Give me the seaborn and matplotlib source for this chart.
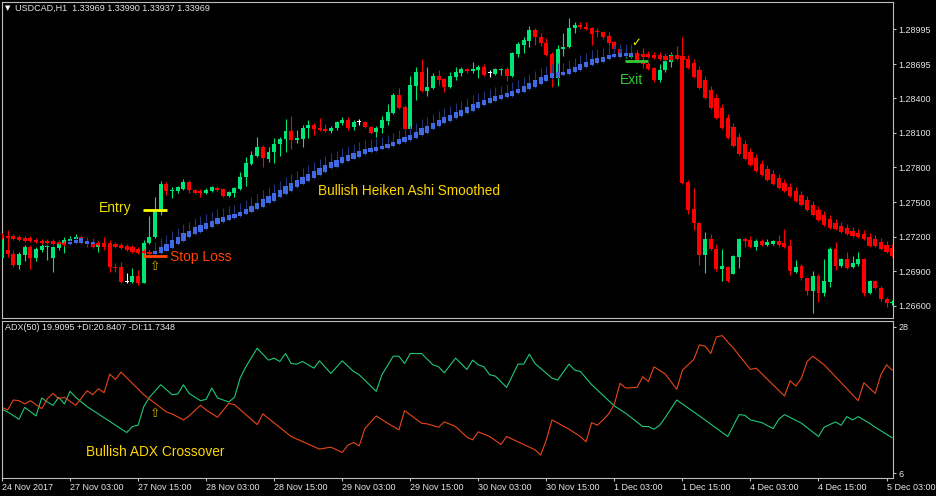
import numpy as np
import pandas as pd
import matplotlib
matplotlib.use("Agg")
import matplotlib.pyplot as plt
import seaborn as sns

# USDCAD H1, 24 Nov - 5 Dec 2017, one value per hourly bar
bar_open = [
    1.27016, 1.27085, 1.27050, 1.26955, 1.27042, 1.27111, 1.27016, 1.27085, 1.27107, 1.27016,
    1.27102, 1.27137, 1.27167, 1.27180, 1.27198, 1.27154, 1.27146, 1.27111, 1.27146, 1.27146,
    1.26938, 1.26938, 1.26808, 1.26808, 1.26860, 1.26799, 1.27146, 1.27198, 1.27414, 1.27657,
    1.27596, 1.27596, 1.27613, 1.27674, 1.27605, 1.27587, 1.27579, 1.27596, 1.27622, 1.27613,
    1.27553, 1.27579, 1.27613, 1.27717, 1.27830, 1.27899, 1.27977, 1.27873, 1.27934, 1.28003,
    1.28046, 1.28116, 1.28042, 1.28046, 1.28142, 1.28167, 1.28142, 1.28124, 1.28116, 1.28142,
    1.28185, 1.28211, 1.28150, 1.28193, 1.28193, 1.28150, 1.28107, 1.28142, 1.28202, 1.28271,
    1.28427, 1.28323, 1.28133, 1.28505, 1.28626, 1.28462, 1.28488, 1.28592, 1.28566, 1.28497,
    1.28583, 1.28618, 1.28652, 1.28635, 1.28644, 1.28670, 1.28618, 1.28609, 1.28648, 1.28652,
    1.28592, 1.28782, 1.28860, 1.28895, 1.28990, 1.28930, 1.28878, 1.28782, 1.28575, 1.28826,
    1.28843, 1.29008, 1.29033, 1.29016, 1.29008, 1.28973, 1.28973, 1.28938, 1.28886, 1.28826,
    1.28774, 1.28756, 1.28791, 1.28713, 1.28696, 1.28661, 1.28557, 1.28644, 1.28713, 1.28774,
    1.28756, 1.27674, 1.27440, 1.27319, 1.27042, 1.27180, 1.27094, 1.26920, 1.26938, 1.26877,
    1.27024, 1.27180, 1.27172, 1.27111, 1.27163, 1.27128, 1.27137, 1.27163, 1.27146, 1.27120,
    1.26894, 1.26946, 1.26843, 1.26730, 1.26860, 1.26713, 1.26808, 1.27094, 1.26946, 1.27007,
    1.26938, 1.26964, 1.27007, 1.26713, 1.26817, 1.26756, 1.26661, 1.26622,
]
bar_high = [
    1.27258, 1.27258, 1.27085, 1.27068, 1.27128, 1.27128, 1.27111, 1.27137, 1.27128, 1.27120,
    1.27154, 1.27198, 1.27206, 1.27224, 1.27206, 1.27198, 1.27189, 1.27163, 1.27198, 1.27172,
    1.26972, 1.26981, 1.26886, 1.26929, 1.26912, 1.27172, 1.27379, 1.27544, 1.27683, 1.27674,
    1.27631, 1.27639, 1.27700, 1.27691, 1.27613, 1.27613, 1.27622, 1.27639, 1.27639, 1.27622,
    1.27596, 1.27631, 1.27760, 1.27890, 1.27942, 1.28064, 1.27994, 1.27977, 1.28055, 1.28064,
    1.28219, 1.28245, 1.28124, 1.28167, 1.28211, 1.28185, 1.28228, 1.28176, 1.28159, 1.28202,
    1.28237, 1.28237, 1.28211, 1.28219, 1.28202, 1.28159, 1.28159, 1.28245, 1.28349, 1.28445,
    1.28488, 1.28341, 1.28592, 1.28670, 1.28739, 1.28670, 1.28618, 1.28644, 1.28575, 1.28626,
    1.28670, 1.28670, 1.28661, 1.28713, 1.28687, 1.28696, 1.28644, 1.28661, 1.28661, 1.28670,
    1.28800, 1.28886, 1.28930, 1.29025, 1.29008, 1.28964, 1.28921, 1.28800, 1.28860, 1.28964,
    1.29094, 1.29059, 1.29059, 1.29059, 1.29016, 1.29008, 1.28982, 1.28973, 1.28895, 1.28843,
    1.28843, 1.28843, 1.28817, 1.28834, 1.28713, 1.28670, 1.28696, 1.28756, 1.28800, 1.28852,
    1.28930, 1.27691, 1.27622, 1.27327, 1.27241, 1.27224, 1.27137, 1.27094, 1.26946, 1.27042,
    1.27189, 1.27198, 1.27206, 1.27180, 1.27180, 1.27180, 1.27172, 1.27215, 1.27267, 1.27180,
    1.26998, 1.26964, 1.26851, 1.26903, 1.26877, 1.27007, 1.27111, 1.27154, 1.27016, 1.27068,
    1.27033, 1.27068, 1.27016, 1.26825, 1.26825, 1.26773, 1.26678, 1.26652,
]
bar_low = [
    1.26998, 1.27024, 1.26938, 1.26920, 1.26990, 1.26920, 1.26990, 1.27068, 1.26998, 1.26894,
    1.27085, 1.27059, 1.27146, 1.27154, 1.27137, 1.27111, 1.27102, 1.27068, 1.27085, 1.26894,
    1.26894, 1.26799, 1.26799, 1.26799, 1.26782, 1.26799, 1.27137, 1.27189, 1.27388, 1.27561,
    1.27535, 1.27579, 1.27605, 1.27579, 1.27570, 1.27544, 1.27570, 1.27587, 1.27596, 1.27544,
    1.27544, 1.27544, 1.27605, 1.27639, 1.27821, 1.27890, 1.27804, 1.27847, 1.27838, 1.27899,
    1.27934, 1.27960, 1.28012, 1.27977, 1.28055, 1.28081, 1.28116, 1.28107, 1.28098, 1.28124,
    1.28167, 1.28124, 1.28124, 1.28167, 1.28142, 1.28090, 1.28064, 1.28098, 1.28167, 1.28263,
    1.28306, 1.28124, 1.28124, 1.28384, 1.28453, 1.28419, 1.28479, 1.28514, 1.28453, 1.28488,
    1.28557, 1.28592, 1.28618, 1.28618, 1.28575, 1.28592, 1.28583, 1.28600, 1.28600, 1.28549,
    1.28583, 1.28756, 1.28791, 1.28843, 1.28860, 1.28852, 1.28765, 1.28497, 1.28505, 1.28765,
    1.28834, 1.28964, 1.28999, 1.28990, 1.28860, 1.28930, 1.28912, 1.28860, 1.28808, 1.28748,
    1.28748, 1.28748, 1.28704, 1.28661, 1.28644, 1.28540, 1.28540, 1.28626, 1.28670, 1.28739,
    1.27657, 1.27397, 1.27258, 1.26955, 1.26886, 1.27085, 1.26903, 1.26817, 1.26808, 1.26877,
    1.26929, 1.27111, 1.27102, 1.27085, 1.27120, 1.27120, 1.27128, 1.27111, 1.27102, 1.26868,
    1.26886, 1.26825, 1.26695, 1.26539, 1.26635, 1.26687, 1.26765, 1.26912, 1.26938, 1.26920,
    1.26929, 1.26946, 1.26687, 1.26704, 1.26747, 1.26643, 1.26591, 1.26609,
]
bar_close = [
    1.27215, 1.27050, 1.26955, 1.27050, 1.27111, 1.27016, 1.27094, 1.27120, 1.27111, 1.27111,
    1.27137, 1.27172, 1.27172, 1.27198, 1.27146, 1.27137, 1.27111, 1.27146, 1.27111, 1.26938,
    1.26933, 1.26808, 1.26808, 1.26860, 1.26799, 1.27146, 1.27198, 1.27431, 1.27657, 1.27596,
    1.27605, 1.27631, 1.27674, 1.27605, 1.27579, 1.27583, 1.27605, 1.27631, 1.27605, 1.27553,
    1.27587, 1.27622, 1.27717, 1.27838, 1.27908, 1.27977, 1.27882, 1.27934, 1.28003, 1.28046,
    1.28116, 1.28038, 1.28046, 1.28142, 1.28167, 1.28133, 1.28124, 1.28120, 1.28142, 1.28193,
    1.28211, 1.28142, 1.28193, 1.28193, 1.28150, 1.28098, 1.28142, 1.28211, 1.28280, 1.28427,
    1.28315, 1.28133, 1.28514, 1.28626, 1.28462, 1.28497, 1.28592, 1.28557, 1.28497, 1.28592,
    1.28626, 1.28652, 1.28635, 1.28652, 1.28670, 1.28600, 1.28618, 1.28652, 1.28652, 1.28592,
    1.28791, 1.28869, 1.28904, 1.28990, 1.28930, 1.28878, 1.28774, 1.28575, 1.28826, 1.28843,
    1.29008, 1.29033, 1.29016, 1.28999, 1.28956, 1.28969, 1.28930, 1.28878, 1.28826, 1.28756,
    1.28782, 1.28791, 1.28713, 1.28696, 1.28652, 1.28557, 1.28644, 1.28722, 1.28774, 1.28748,
    1.27665, 1.27431, 1.27319, 1.27042, 1.27180, 1.27094, 1.26920, 1.26946, 1.26817, 1.27033,
    1.27180, 1.27163, 1.27111, 1.27163, 1.27128, 1.27154, 1.27163, 1.27128, 1.27111, 1.26903,
    1.26938, 1.26843, 1.26730, 1.26860, 1.26713, 1.26817, 1.27094, 1.26946, 1.27007, 1.26929,
    1.26972, 1.27007, 1.26713, 1.26817, 1.26756, 1.26661, 1.26626, 1.26626,
]

# Heiken Ashi Smoothed overlay
ha_open = [
    1.27215, 1.27206, 1.27206, 1.27198, 1.27189, 1.27189, 1.27172, 1.27163, 1.27163, 1.27163,
    1.27154, 1.27146, 1.27137, 1.27146, 1.27146, 1.27137, 1.27137, 1.27146, 1.27146, 1.27146,
    1.27137, 1.27128, 1.27120, 1.27111, 1.27094, 1.27076, 1.27068, 1.27050, 1.27059, 1.27076,
    1.27102, 1.27137, 1.27163, 1.27198, 1.27224, 1.27241, 1.27267, 1.27284, 1.27310, 1.27327,
    1.27345, 1.27362, 1.27379, 1.27397, 1.27414, 1.27440, 1.27457, 1.27492, 1.27509, 1.27544,
    1.27570, 1.27596, 1.27631, 1.27657, 1.27683, 1.27709, 1.27734, 1.27760, 1.27795, 1.27804,
    1.27838, 1.27856, 1.27873, 1.27890, 1.27916, 1.27934, 1.27942, 1.27960, 1.27968, 1.27986,
    1.28003, 1.28020, 1.28038, 1.28055, 1.28081, 1.28098, 1.28133, 1.28159, 1.28185, 1.28202,
    1.28228, 1.28245, 1.28271, 1.28289, 1.28315, 1.28341, 1.28358, 1.28375, 1.28393, 1.28410,
    1.28419, 1.28445, 1.28453, 1.28479, 1.28497, 1.28523, 1.28549, 1.28575, 1.28583, 1.28600,
    1.28609, 1.28626, 1.28644, 1.28670, 1.28687, 1.28704, 1.28713, 1.28739, 1.28756, 1.28756,
    1.28765, 1.28765, 1.28791, 1.28782, 1.28782, 1.28774, 1.28774, 1.28765, 1.28765, 1.28765,
    1.28765, 1.28739, 1.28704, 1.28644, 1.28557, 1.28471, 1.28401, 1.28315, 1.28228, 1.28150,
    1.28064, 1.28003, 1.27934, 1.27882, 1.27830, 1.27786, 1.27743, 1.27709, 1.27665, 1.27631,
    1.27596, 1.27561, 1.27518, 1.27475, 1.27431, 1.27388, 1.27353, 1.27319, 1.27293, 1.27276,
    1.27250, 1.27232, 1.27224, 1.27198, 1.27180, 1.27154, 1.27128, 1.27102,
]
ha_close = [
    1.27189, 1.27189, 1.27180, 1.27172, 1.27163, 1.27163, 1.27154, 1.27146, 1.27146, 1.27137,
    1.27137, 1.27128, 1.27154, 1.27172, 1.27189, 1.27163, 1.27154, 1.27128, 1.27128, 1.27120,
    1.27111, 1.27102, 1.27085, 1.27068, 1.27059, 1.27059, 1.27050, 1.27076, 1.27111, 1.27137,
    1.27172, 1.27198, 1.27232, 1.27250, 1.27284, 1.27301, 1.27319, 1.27336, 1.27362, 1.27371,
    1.27388, 1.27397, 1.27414, 1.27440, 1.27466, 1.27492, 1.27527, 1.27553, 1.27579, 1.27605,
    1.27639, 1.27665, 1.27691, 1.27717, 1.27743, 1.27769, 1.27795, 1.27821, 1.27847, 1.27864,
    1.27890, 1.27908, 1.27925, 1.27942, 1.27960, 1.27968, 1.27977, 1.27986, 1.28003, 1.28020,
    1.28046, 1.28064, 1.28081, 1.28107, 1.28142, 1.28159, 1.28185, 1.28211, 1.28237, 1.28254,
    1.28280, 1.28297, 1.28323, 1.28349, 1.28367, 1.28384, 1.28401, 1.28419, 1.28427, 1.28445,
    1.28462, 1.28479, 1.28505, 1.28531, 1.28557, 1.28583, 1.28600, 1.28618, 1.28626, 1.28626,
    1.28652, 1.28670, 1.28696, 1.28713, 1.28739, 1.28748, 1.28756, 1.28774, 1.28782, 1.28791,
    1.28791, 1.28791, 1.28765, 1.28756, 1.28756, 1.28748, 1.28739, 1.28730, 1.28730, 1.28739,
    1.28730, 1.28661, 1.28583, 1.28488, 1.28401, 1.28315, 1.28228, 1.28142, 1.28055, 1.27986,
    1.27916, 1.27873, 1.27821, 1.27769, 1.27734, 1.27691, 1.27657, 1.27622, 1.27596, 1.27553,
    1.27509, 1.27475, 1.27431, 1.27388, 1.27345, 1.27301, 1.27276, 1.27267, 1.27241, 1.27224,
    1.27206, 1.27198, 1.27180, 1.27120, 1.27120, 1.27094, 1.27068, 1.27033,
]
ha_high = [
    1.27232, 1.27224, 1.27224, 1.27215, 1.27206, 1.27206, 1.27189, 1.27180, 1.27180, 1.27180,
    1.27172, 1.27163, 1.27180, 1.27198, 1.27215, 1.27189, 1.27180, 1.27163, 1.27163, 1.27163,
    1.27154, 1.27146, 1.27137, 1.27128, 1.27111, 1.27094, 1.27085, 1.27154, 1.27189, 1.27215,
    1.27250, 1.27276, 1.27310, 1.27327, 1.27362, 1.27379, 1.27397, 1.27414, 1.27440, 1.27449,
    1.27466, 1.27475, 1.27492, 1.27518, 1.27544, 1.27570, 1.27605, 1.27631, 1.27657, 1.27683,
    1.27717, 1.27743, 1.27769, 1.27795, 1.27821, 1.27847, 1.27873, 1.27899, 1.27925, 1.27942,
    1.27968, 1.27986, 1.28003, 1.28020, 1.28038, 1.28046, 1.28055, 1.28064, 1.28081, 1.28098,
    1.28124, 1.28142, 1.28159, 1.28185, 1.28219, 1.28237, 1.28263, 1.28289, 1.28315, 1.28332,
    1.28358, 1.28375, 1.28401, 1.28427, 1.28445, 1.28462, 1.28479, 1.28497, 1.28505, 1.28523,
    1.28540, 1.28557, 1.28583, 1.28609, 1.28635, 1.28661, 1.28678, 1.28696, 1.28704, 1.28704,
    1.28730, 1.28748, 1.28774, 1.28791, 1.28817, 1.28826, 1.28834, 1.28852, 1.28860, 1.28869,
    1.28869, 1.28869, 1.28817, 1.28808, 1.28808, 1.28800, 1.28800, 1.28791, 1.28791, 1.28791,
    1.28791, 1.28774, 1.28739, 1.28678, 1.28592, 1.28505, 1.28436, 1.28349, 1.28263, 1.28185,
    1.28098, 1.28038, 1.27968, 1.27916, 1.27864, 1.27821, 1.27778, 1.27743, 1.27700, 1.27665,
    1.27631, 1.27596, 1.27553, 1.27509, 1.27466, 1.27423, 1.27388, 1.27353, 1.27327, 1.27310,
    1.27284, 1.27267, 1.27258, 1.27232, 1.27215, 1.27189, 1.27163, 1.27137,
]
ha_low = [
    1.27180, 1.27180, 1.27172, 1.27163, 1.27154, 1.27154, 1.27146, 1.27137, 1.27137, 1.27128,
    1.27128, 1.27120, 1.27128, 1.27137, 1.27137, 1.27128, 1.27128, 1.27120, 1.27120, 1.27111,
    1.27102, 1.27094, 1.27076, 1.27059, 1.27050, 1.27050, 1.27042, 1.27042, 1.27050, 1.27068,
    1.27094, 1.27128, 1.27154, 1.27189, 1.27215, 1.27232, 1.27258, 1.27276, 1.27301, 1.27319,
    1.27336, 1.27353, 1.27371, 1.27388, 1.27405, 1.27431, 1.27449, 1.27483, 1.27501, 1.27535,
    1.27561, 1.27587, 1.27622, 1.27648, 1.27674, 1.27700, 1.27726, 1.27752, 1.27786, 1.27795,
    1.27830, 1.27847, 1.27864, 1.27882, 1.27908, 1.27925, 1.27934, 1.27951, 1.27960, 1.27977,
    1.27994, 1.28012, 1.28029, 1.28046, 1.28072, 1.28090, 1.28124, 1.28150, 1.28176, 1.28193,
    1.28219, 1.28237, 1.28263, 1.28280, 1.28306, 1.28332, 1.28349, 1.28367, 1.28384, 1.28401,
    1.28410, 1.28436, 1.28445, 1.28471, 1.28488, 1.28514, 1.28540, 1.28566, 1.28575, 1.28592,
    1.28600, 1.28618, 1.28635, 1.28661, 1.28678, 1.28696, 1.28704, 1.28730, 1.28748, 1.28748,
    1.28756, 1.28756, 1.28756, 1.28748, 1.28748, 1.28739, 1.28730, 1.28722, 1.28722, 1.28730,
    1.28722, 1.28652, 1.28575, 1.28479, 1.28393, 1.28306, 1.28219, 1.28133, 1.28046, 1.27977,
    1.27908, 1.27864, 1.27812, 1.27760, 1.27726, 1.27683, 1.27648, 1.27613, 1.27587, 1.27544,
    1.27501, 1.27466, 1.27423, 1.27379, 1.27336, 1.27293, 1.27267, 1.27258, 1.27232, 1.27215,
    1.27198, 1.27189, 1.27172, 1.27111, 1.27111, 1.27085, 1.27059, 1.27024,
]

# ADX(50) directional lines, turning points (bar index, value)
plus_di_bar = [0, 1, 3, 4, 6, 7, 8, 9, 10, 11, 12, 13, 15, 22, 23, 24, 25, 26, 28, 30,
               31, 32, 33, 35, 36, 37, 38, 40, 41, 42, 43, 45, 47, 48, 49, 50, 51, 52, 53, 55,
               56, 58, 60, 62, 63, 66, 67, 69, 70, 71, 72, 74, 76, 77, 78, 80, 82, 83, 84, 85,
               86, 87, 89, 91, 92, 93, 94, 97, 98, 100, 101, 102, 104, 108, 110, 113, 114, 115, 116, 117,
               119, 123, 128, 130, 131, 132, 134, 136, 137, 138, 141, 144, 145, 147, 148, 149, 150, 151, 153, 154,
               157]
plus_di = [15.6, 15.2, 14.1, 15.9, 14.6, 17.3, 16.7, 16.2, 17.4, 16.4, 18.3, 17.4, 16.0, 12.1, 13.0, 13.2, 16.0, 17.4, 19.3, 17.8,
           17.9, 19.3, 18.0, 16.9, 17.1, 18.8, 17.3, 16.7, 17.4, 20.3, 22.0, 24.8, 23.0, 23.3, 22.8, 24.0, 22.5, 22.4, 22.8, 21.8,
           22.9, 21.0, 22.9, 21.3, 20.8, 18.3, 20.8, 23.6, 23.6, 22.5, 24.0, 24.0, 22.3, 22.0, 21.1, 23.3, 21.6, 23.0, 22.3, 22.0,
           20.8, 20.6, 18.9, 22.4, 22.4, 23.9, 22.5, 20.3, 20.0, 22.4, 21.5, 21.3, 19.3, 16.1, 15.0, 13.0, 13.0, 12.6, 13.2, 14.4,
           17.0, 14.6, 11.5, 14.8, 14.7, 14.0, 13.6, 12.7, 14.1, 14.8, 13.5, 11.5, 12.9, 13.7, 13.2, 14.5, 14.0, 14.5, 13.5, 12.9,
           11.3]
minus_di_bar = [0, 1, 2, 3, 4, 5, 7, 8, 9, 10, 11, 13, 15, 16, 17, 18, 19, 20, 21, 25,
                29, 30, 32, 33, 35, 36, 38, 40, 41, 45, 46, 51, 56, 58, 60, 61, 62, 63, 64, 66,
                68, 70, 71, 74, 75, 77, 78, 80, 82, 83, 84, 86, 88, 89, 91, 94, 95, 96, 97, 100,
                102, 103, 104, 105, 106, 107, 108, 109, 110, 112, 113, 114, 115, 117, 119, 120, 122, 123, 124, 125,
                126, 127, 129, 132, 133, 138, 139, 140, 141, 142, 143, 145, 151, 152, 154, 155, 156, 157]
minus_di = [15.9, 15.5, 17.0, 16.9, 16.4, 16.9, 15.7, 17.2, 18.0, 17.2, 17.4, 16.2, 18.4, 17.8, 18.7, 18.1, 20.9, 20.1, 21.2, 17.8,
            15.2, 14.9, 14.0, 14.6, 16.2, 15.5, 14.4, 16.5, 16.3, 13.3, 14.9, 11.5, 9.6, 9.9, 9.1, 10.2, 10.6, 10.1, 12.7, 14.6,
            13.5, 12.5, 15.4, 13.5, 13.4, 12.9, 13.7, 13.0, 11.4, 11.0, 12.2, 11.5, 10.3, 11.5, 10.7, 9.5, 8.7, 11.0, 14.0, 12.6,
            11.5, 10.7, 13.6, 13.2, 14.0, 14.9, 16.4, 19.5, 18.8, 18.9, 20.5, 19.8, 22.0, 20.9, 18.6, 21.5, 23.1, 25.3, 25.1, 24.0,
            26.5, 26.7, 24.8, 21.6, 21.8, 17.6, 19.9, 19.1, 20.3, 22.8, 23.6, 22.3, 16.9, 19.6, 18.0, 20.8, 22.3, 21.5]

time_ticks = [0, 12, 24, 36, 48, 60, 72, 84, 96, 108, 120, 132, 144, 156]
time_labels = ['24 Nov 2017', '27 Nov 03:00', '27 Nov 15:00', '28 Nov 03:00', '28 Nov 15:00',
               '29 Nov 03:00', '29 Nov 15:00', '30 Nov 03:00', '30 Nov 15:00', '1 Dec 03:00',
               '1 Dec 15:00', '4 Dec 03:00', '4 Dec 15:00', '5 Dec 03:00']
price_ticks = [1.26600, 1.26900, 1.27200, 1.27500, 1.27800, 1.28100, 1.28400, 1.28695, 1.28995]
adx_ticks = [6, 28]

# trade annotations
entry_price, stop_price, exit_price = 1.27435, 1.27033, 1.28722
trade_bars = (24.9, 29.1)
exit_bars = (109.9, 113.9)

BULL, BEAR, DOJI = '#00E676', '#FF0000', '#FFFFFF'
HA_UP, HA_UP_WICK, HA_DN = '#4169E1', '#22347A', '#FF0000'
GOLD = '#FFD700'
AXIS_TXT = '#E6E6E6'
FRAME = '#BEBEBE'

sns.set_style('dark', {'axes.facecolor': 'black', 'figure.facecolor': 'black',
                       'axes.edgecolor': FRAME, 'text.color': AXIS_TXT,
                       'xtick.color': AXIS_TXT, 'ytick.color': AXIS_TXT})
plt.rcParams['font.family'] = ['Liberation Sans', 'DejaVu Sans']

W, H = 936, 496
fig = plt.figure(figsize=(W / 100, H / 100), dpi=100, facecolor='black')


def px_box(x0, y0, x1, y1):
    return [x0 / W, 1 - y1 / H, (x1 - x0) / W, (y1 - y0) / H]


ax = fig.add_axes(px_box(1.5, 2, 893, 318))
ax2 = fig.add_axes(px_box(1.5, 321, 893, 478), sharex=ax)

# ---- price candles
o, h, l, c = (np.array(v) for v in (bar_open, bar_high, bar_low, bar_close))
idx = np.arange(len(c))
col = np.where(c > o, BULL, np.where(c < o, BEAR, DOJI))
ax.vlines(idx, l, h, colors=col, linewidth=0.8, zorder=2)
ax.bar(idx, np.maximum(np.abs(c - o), 0.00009), bottom=np.minimum(o, c),
       width=0.7, color=col, linewidth=0, zorder=3)

# ---- Heiken Ashi Smoothed
ho, hc, hh, hl = (np.array(v) for v in (ha_open, ha_close, ha_high, ha_low))
up = hc > ho
ax.vlines(idx, hl, hh, colors=np.where(up, HA_UP_WICK, HA_DN), linewidth=0.8, zorder=4)
ax.bar(idx, np.abs(hc - ho), bottom=np.minimum(ho, hc), width=0.74,
       color=np.where(up, HA_UP, HA_DN), linewidth=0, zorder=5)

# trade marks
ax.hlines(entry_price, *trade_bars, color='#FFFF00', linewidth=2, zorder=6)
ax.hlines(stop_price, *trade_bars, color='#FF4500', linewidth=2, zorder=6)
ax.hlines(exit_price, *exit_bars, color='#32CD32', linewidth=2, zorder=6)
ax.text(22.9, 1.27414, 'Entry', color='#F0E000', fontsize=10, ha='right', va='baseline')
ax.text(29.6, 1.26994, 'Stop Loss', color='#FF4500', fontsize=10, ha='left', va='baseline')
ax.text(55.7, 1.27565, 'Bullish Heiken Ashi Smoothed', color=GOLD, fontsize=9.8,
        ha='left', va='baseline')
ax.text(109.0, 1.28523, 'Exit', color='#32CD32', fontsize=10, ha='left', va='baseline')
ax.text(27.05, 1.26946, '\u21e7', color='#C8B400', fontsize=9, ha='center', va='center',
        family='DejaVu Sans')
ax.text(111.9, 1.28886, '\u2713', color='#FFFF00', fontsize=8.5, ha='center', va='center',
        family='DejaVu Sans')

ax.set_xlim(-0.09, 157.14)
ax.set_ylim(1.26496, 1.29233)
ax.yaxis.tick_right()
ax.set_yticks(price_ticks)
ax.set_yticklabels([f'{p:.5f}' for p in price_ticks])
ax.tick_params(axis='y', which='both', right=True, left=False, length=2.5, width=0.8,
               color=FRAME, labelsize=6.5, pad=1.5, labelcolor=AXIS_TXT)
ax.tick_params(axis='x', bottom=False, labelbottom=False)
ax.set_xlabel('')
ax.set_ylabel('')

# ---- ADX panel
plus_df = pd.DataFrame({'bar': plus_di_bar, 'value': plus_di})
minus_df = pd.DataFrame({'bar': minus_di_bar, 'value': minus_di})
sns.lineplot(data=plus_df, x='bar', y='value', color='#20C878', linewidth=0.8,
             estimator=None, ax=ax2)
sns.lineplot(data=minus_df, x='bar', y='value', color='#E8461A', linewidth=0.8,
             estimator=None, ax=ax2)
ax2.text(14.8, 8.49, 'Bullish ADX Crossover', color=GOLD, fontsize=9.9, ha='left',
         va='baseline')
ax2.text(27.05, 15.04, '\u21e7', color='#C8B400', fontsize=9, ha='center', va='center',
         family='DejaVu Sans')

ax2.set_ylim(5.25, 28.9)
ax2.yaxis.tick_right()
ax2.set_yticks(adx_ticks)
ax2.set_yticklabels([str(t) for t in adx_ticks])
ax2.tick_params(axis='y', right=True, left=False, length=2.5, width=0.8, color=FRAME,
                labelsize=6.5, pad=1.5, labelcolor=AXIS_TXT)
ax2.set_xticks(time_ticks)
ax2.set_xticklabels(time_labels)
ax2.tick_params(axis='x', bottom=True, length=2.5, width=0.8, color=FRAME, labelsize=6.5,
                pad=1.0, labelcolor=AXIS_TXT)
for lab in ax2.get_xticklabels():
    lab.set_ha('left')
ax2.set_xlabel('')
ax2.set_ylabel('')

for a in (ax, ax2):
    for s in a.spines.values():
        s.set_color(FRAME)
        s.set_linewidth(0.8)
        s.set_visible(True)
    a.grid(False)

# header texts
fig.text(5 / W, 1 - 8.5 / H, '\u25bc', color='white', fontsize=5, va='center', ha='left',
         family='DejaVu Sans')
fig.text(15 / W, 1 - 8.5 / H, 'USDCAD,H1  1.33969 1.33990 1.33937 1.33969', color=AXIS_TXT,
         fontsize=6.5, va='center', ha='left')
fig.text(5 / W, 1 - 328 / H, 'ADX(50) 19.9095 +DI:20.8407 -DI:11.7348', color=AXIS_TXT,
         fontsize=6.5, va='center', ha='left')

fig.savefig('out.png', dpi=100, facecolor='black')
